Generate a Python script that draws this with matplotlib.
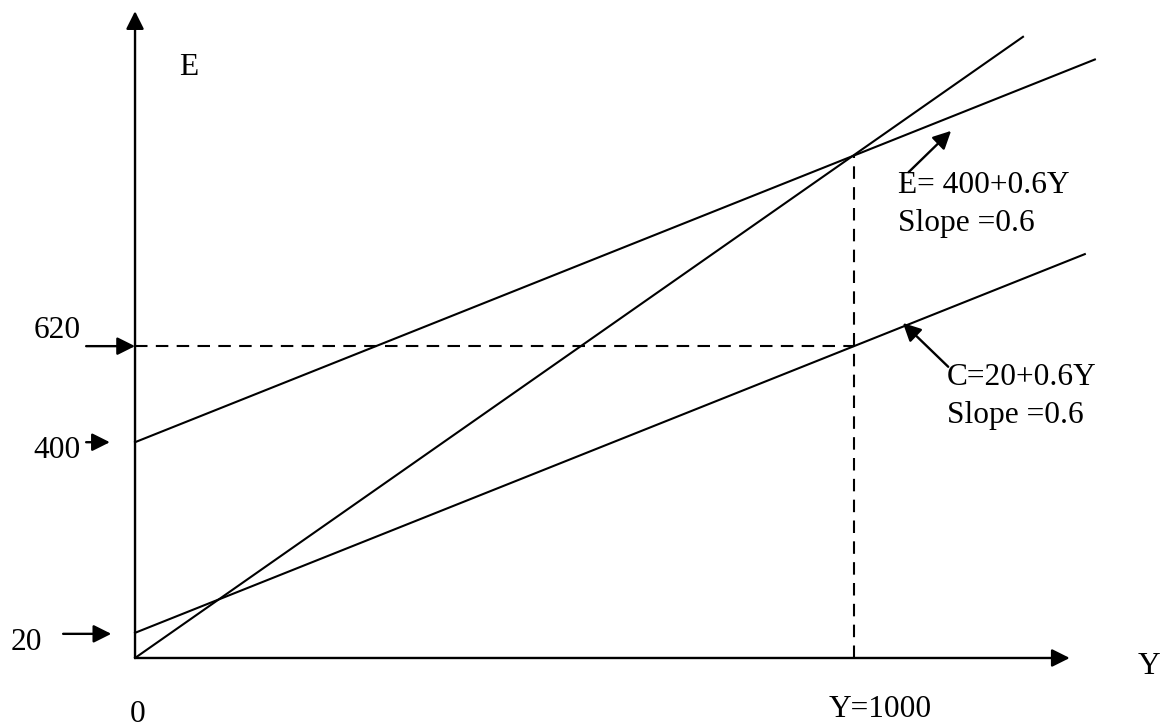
import numpy as np
import matplotlib
matplotlib.use('Agg')
import matplotlib.pyplot as plt

# %%
# Keynesian cross: values in chart units (the drawing is not to scale)

y_eq = 1000          # equilibrium income
e_eq = 1000          # expenditure at equilibrium (on the 45 degree line)
c_eq = 620           # consumption at equilibrium
slope = 0.57         # drawn slope of the E and C lines
ae_intercept = 429   # where the E line meets the vertical axis
c_intercept = 50     # where the C line meets the vertical axis

line45_end = 1235
ae_end = 1335
c_end = 1321
xaxis_end = 1300
yaxis_end = 1286

tick_labels = ['620', '400', '20']
tick_values = [c_eq, ae_intercept, c_intercept]

ae_label = ['E= 400+0.6Y', 'Slope =0.6']
c_label = ['C=20+0.6Y', 'Slope =0.6']

# %%
plt.rcParams['font.family'] = ['Liberation Serif', 'DejaVu Serif']
fs = 22.6

fig = plt.figure(figsize=(11.67, 7.28), dpi=100)
ax = fig.add_axes([0, 0, 1, 1])
ax.set_xlim(-187.8, 1435.3)
ax.set_ylim(-139.2, 1308.2)
ax.axis('off')

lw = 1.5
arrow = dict(arrowstyle='-|>,head_length=0.6,head_width=0.3', mutation_scale=18,
             color='black', lw=1.7, shrinkA=0, shrinkB=0)

# axes with arrow heads
ax.annotate('', xy=(0, yaxis_end), xytext=(0, 0), arrowprops=arrow)
ax.annotate('', xy=(xaxis_end, 0), xytext=(0, 0), arrowprops=arrow)

# 45 degree line, E line and C line
x = np.array([0, line45_end])
ax.plot(x, x, color='black', lw=lw)
x = np.array([0, ae_end])
ax.plot(x, ae_intercept + slope * x, color='black', lw=lw)
x = np.array([0, c_end])
ax.plot(x, c_intercept + slope * x, color='black', lw=lw)

# dashed guides
ax.plot([0, y_eq], [c_eq, c_eq], color='black', lw=lw, ls=(0, (6, 4)))
ax.plot([y_eq, y_eq], [0, e_eq], color='black', lw=lw, ls=(0, (6, 4)))

# value labels on the vertical axis with small arrows
ax.text(-75, 636, tick_labels[0], fontsize=fs, ha='right', va='baseline')
ax.annotate('', xy=(0, tick_values[0]), xytext=(-68, tick_values[0]), arrowprops=arrow)
ax.text(-75, 398, tick_labels[1], fontsize=fs, ha='right', va='baseline')
ax.annotate('', xy=(-35, tick_values[1]), xytext=(-68, tick_values[1]), arrowprops=arrow)
ax.text(-129, 16, tick_labels[2], fontsize=fs, ha='right', va='baseline')
ax.annotate('', xy=(-33, tick_values[2] - 2), xytext=(-100, tick_values[2] - 2), arrowprops=arrow)

ax.text(4, -127, '0', fontsize=fs, ha='center', va='baseline')
ax.text(61, 1159, 'E', fontsize=fs, ha='left', va='baseline')
ax.text(1395, -32, 'Y', fontsize=fs, ha='left', va='baseline')
ax.text(964, -117, 'Y=%d' % y_eq, fontsize=fs, ha='left', va='baseline')

# line annotations
ax.annotate('', xy=(1135, 1048), xytext=(1076, 966), arrowprops=arrow)
ax.text(1061, 924, ae_label[0], fontsize=fs, ha='left', va='baseline')
ax.text(1061, 849, ae_label[1], fontsize=fs, ha='left', va='baseline')

ax.annotate('', xy=(1068, 666), xytext=(1131, 579), arrowprops=arrow)
ax.text(1129, 543, c_label[0], fontsize=fs, ha='left', va='baseline')
ax.text(1129, 467, c_label[1], fontsize=fs, ha='left', va='baseline')

fig.savefig('out.png', dpi=100, facecolor='white')
